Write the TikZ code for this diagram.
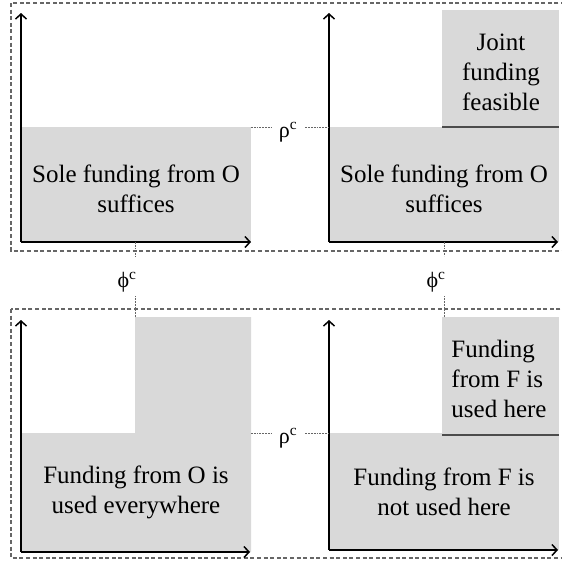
\documentclass[tikz,border=0pt]{standalone}
\usepackage{fontspec}
\setmainfont{Liberation Serif}
\usetikzlibrary{arrows.meta}

\begin{document}
\begin{tikzpicture}[x=1pt,y=-1pt,
    frame/.style={draw=black!60,line width=1.2pt,dash pattern=on 4pt off 2.6pt},
    region/.style={fill=black!15},
    axis/.style={line width=1.7pt,-{Straight Barb[length=5pt,width=11pt,line width=1.5pt]}},
    rim/.style={draw=black!70,line width=1.5pt},
    guide/.style={draw=black!60,line width=0.9pt,dash pattern=on 1.8pt off 1pt},
    txt/.style={font=\fontsize{25}{30}\selectfont,align=center,inner sep=0pt},
    crit/.style={font=\fontsize{22}{26}\selectfont,inner xsep=8pt,inner ysep=0pt}]
  \useasboundingbox (0,0) rectangle (562,563);

  % dashed frames round the two rows
  \draw[frame] (11,3) rectangle (568,251);
  \draw[frame] (11,309) rectangle (568,558);

  % shaded regions
  \fill[region] (21,127) rectangle (251,242);
  \fill[region] (329,127) rectangle (559,242);
  \fill[region] (442,10) rectangle (559,127);
  \fill[region] (21,433) -| (135,317) -| (251,552) -- (21,552) -- cycle;
  \fill[region] (329,433) rectangle (559,550);
  \fill[region] (442,317) rectangle (559,433);
  \draw[rim] (442,127) -- (559,127);
  \draw[rim] (442,435) -- (559,435);

  % axes
  \coordinate (tl-o) at (21,242);
  \coordinate (tl-y) at (21,13);
  \coordinate (tl-x) at (251,242);
  \coordinate (tr-o) at (329,242);
  \coordinate (tr-y) at (329,13);
  \coordinate (tr-x) at (558,242);
  \coordinate (bl-o) at (21,552);
  \coordinate (bl-y) at (21,320);
  \coordinate (bl-x) at (250,552);
  \coordinate (br-o) at (329,550);
  \coordinate (br-y) at (329,320);
  \coordinate (br-x) at (558,550);
  \draw[axis] (tl-o) -- (tl-y);
  \draw[axis] (tl-o) -- (tl-x);
  \draw[axis] (tr-o) -- (tr-y);
  \draw[axis] (tr-o) -- (tr-x);
  \draw[axis] (bl-o) -- (bl-y);
  \draw[axis] (bl-o) -- (bl-x);
  \draw[axis] (br-o) -- (br-y);
  \draw[axis] (br-o) -- (br-x);

  % thresholds
  \coordinate (tl-rho) at (251,127);
  \coordinate (tr-rho) at (329,127);
  \coordinate (bl-rho) at (251,433);
  \coordinate (br-rho) at (329,433);
  \node[crit,anchor=base] (rho-top) at (288,137) {ρ\textsuperscript{c}};
  \node[crit,anchor=base] (rho-bot) at (288,443) {ρ\textsuperscript{c}};
  \draw[guide] (tl-rho) -- (rho-top.west |- tl-rho);
  \draw[guide] (rho-top.east |- tr-rho) -- (tr-rho);
  \draw[guide] (bl-rho) -- (rho-bot.west |- bl-rho);
  \draw[guide] (rho-bot.east |- br-rho) -- (br-rho);

  \coordinate (tl-phi) at (135,242);
  \coordinate (tr-phi) at (444,242);
  \coordinate (bl-phi) at (135,317);
  \coordinate (br-phi) at (444,317);
  \node[crit,anchor=base] (phi-l) at (127,287) {ϕ\textsuperscript{c}};
  \node[crit,anchor=base] (phi-r) at (436,287) {ϕ\textsuperscript{c}};
  \draw[guide] (tl-phi) -- ++(0,15);
  \draw[guide] (tr-phi) -- ++(0,14);
  \draw[guide] (bl-phi) -- ++(0,-21);
  \draw[guide] (br-phi) -- ++(0,-21);

  % region labels
  \node[txt] (tl-sole) at (136,189) {Sole funding from O\\suffices};
  \node[txt] (tr-sole) at (444,189) {Sole funding from O\\suffices};
  \node[txt] (tr-joint) at (501,72) {Joint\\funding\\feasible};
  \node[txt] (bl-used) at (136,492) {Funding from O is\\used everywhere};
  \node[txt,align=left] (br-used) at (499,379) {Funding\\from F is\\used here};
  \node[txt] (br-unused) at (444,492) {Funding from F is\\not used here};
\end{tikzpicture}
\end{document}
